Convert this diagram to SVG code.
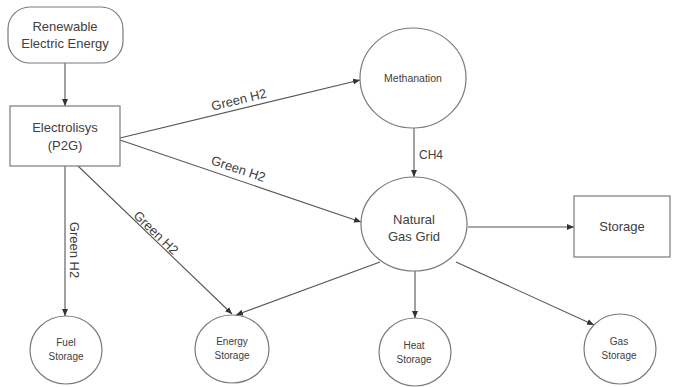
<svg xmlns="http://www.w3.org/2000/svg" width="678" height="387" viewBox="0 0 678 387">
<defs>
<marker id="ah" markerUnits="userSpaceOnUse" markerWidth="8" markerHeight="8" viewBox="0 0 8 8" refX="7" refY="4" orient="auto">
<path d="M0,1 L7,4 L0,7 Z" fill="#333"/>
</marker>
<style>
.n{fill:#fff;stroke:#7a7a7a;stroke-width:1.2}
.c{stroke:#555;stroke-width:1.1;fill:none;marker-end:url(#ah)}
text{font-family:"Liberation Sans",Arial,sans-serif;fill:#404040;text-anchor:middle}
.l{font-size:13px}
.s{font-size:10px}
</style>
</defs>
<rect width="678" height="387" fill="#fff"/>
<g id="connectors">
<line class="c" x1="65" y1="63" x2="65" y2="106"/>
<line class="c" x1="120" y1="138" x2="360" y2="80"/>
<line class="c" x1="120" y1="140" x2="361" y2="222"/>
<line class="c" x1="65" y1="166" x2="65" y2="316"/>
<line class="c" x1="78" y1="166" x2="232" y2="314"/>
<line class="c" x1="414" y1="128" x2="414" y2="177"/>
<line class="c" x1="468" y1="227" x2="574" y2="227"/>
<line class="c" x1="380" y1="262" x2="236" y2="315"/>
<line class="c" x1="415" y1="271" x2="415" y2="318"/>
<line class="c" x1="456" y1="262" x2="594" y2="325"/>
<text class="l" transform="translate(240,104) rotate(-13.6)">Green H2</text>
<text class="l" transform="translate(237,173) rotate(18.5)">Green H2</text>
<text class="l" transform="translate(70,250) rotate(90)">Green H2</text>
<text class="l" transform="translate(153,236) rotate(44)">Green H2</text>
<text x="431" y="159" style="font-size:12px">CH4</text>
</g>
<g id="renewable">
<rect class="n" x="8" y="7" width="115" height="56" rx="22" ry="22"/>
<text class="l" x="65" y="31">Renewable</text>
<text class="l" x="65" y="48">Electric Energy</text>
</g>
<g id="electrolysis">
<rect class="n" x="10" y="106" width="110" height="60"/>
<text class="l" x="65" y="132">Electrolisys</text>
<text class="l" x="65" y="150">(P2G)</text>
</g>
<g id="methanation">
<ellipse class="n" cx="413" cy="78" rx="53" ry="50"/>
<text x="413" y="82" style="font-size:10.5px">Methanation</text>
</g>
<g id="ngg">
<ellipse class="n" cx="414" cy="224" rx="53" ry="47"/>
<text class="l" x="414" y="224">Natural</text>
<text class="l" x="414" y="241">Gas Grid</text>
</g>
<g id="storage">
<rect class="n" x="574" y="196" width="96" height="61"/>
<text class="l" x="622" y="231">Storage</text>
</g>
<g id="fuel">
<ellipse class="n" cx="66" cy="350" rx="36" ry="34"/>
<text class="s" x="66" y="346">Fuel</text>
<text class="s" x="66" y="360">Storage</text>
</g>
<g id="energy">
<ellipse class="n" cx="232" cy="349" rx="37" ry="34"/>
<text class="s" x="232" y="345">Energy</text>
<text class="s" x="232" y="359">Storage</text>
</g>
<g id="heat">
<ellipse class="n" cx="415" cy="352" rx="36" ry="34"/>
<text class="s" x="414" y="349">Heat</text>
<text class="s" x="414" y="363">Storage</text>
</g>
<g id="gas">
<ellipse class="n" cx="620" cy="349" rx="36" ry="35"/>
<text class="s" x="619" y="345">Gas</text>
<text class="s" x="619" y="359">Storage</text>
</g>
</svg>
